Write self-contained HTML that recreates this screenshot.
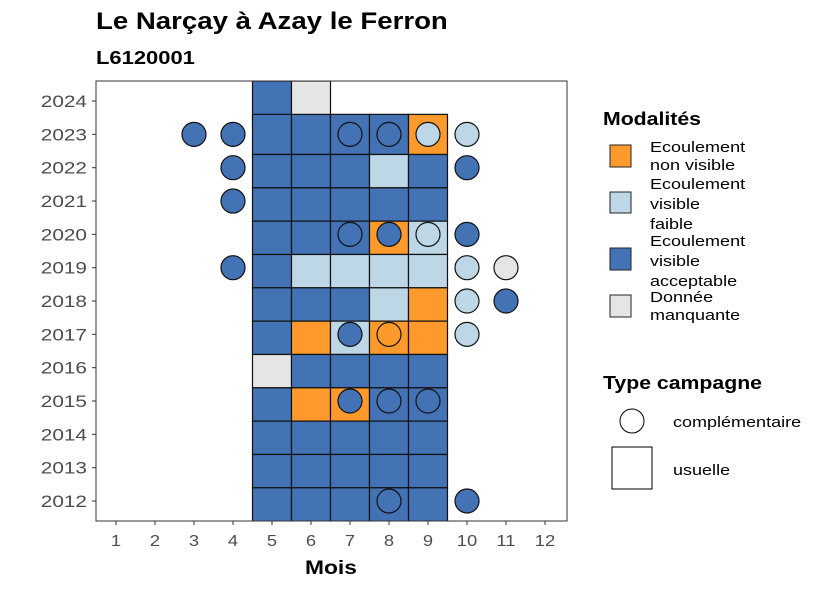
<!DOCTYPE html>
<html><head><meta charset="utf-8"><style>
body{margin:0;background:#fff;font-family:"Liberation Sans",sans-serif}
svg text{font-family:"Liberation Sans",sans-serif}
</style></head><body>
<svg id="c" width="826" height="590" xmlns="http://www.w3.org/2000/svg">
<text class="w" data-f="1.15" x="96" y="29" font-size="24" font-weight="bold">Le Narçay à Azay le Ferron</text>
<text class="w" data-f="1.22" x="96" y="64" font-size="18" font-weight="bold">L6120001</text>
<defs><clipPath id="pc"><rect x="96" y="81" width="471" height="440"/></clipPath></defs>
<rect x="96" y="81" width="471" height="440" fill="#fff"/>
<g id="tiles" clip-path="url(#pc)"></g>
<g id="pts"></g>
<rect x="96" y="81" width="471" height="440" fill="none" stroke="#333" stroke-width="1"/>
<g id="axes"></g>
<text class="w" data-f="1.2" x="305" y="574" font-size="19" font-weight="bold">Mois</text>
<g>
<text class="w" data-f="1.18" x="603" y="125" font-size="18" font-weight="bold">Modalités</text>
<rect x="610" y="145" width="21" height="22" fill="#FD9A2B" stroke="#222"/>
<text x="650" y="152" font-size="15"><tspan class="w" data-f="1.2" x="650">Ecoulement</tspan><tspan class="w" data-f="1.2" x="650" dy="18">non visible</tspan></text>
<rect x="610" y="192" width="21" height="21" fill="#BDD7E7" stroke="#222"/>
<text x="650" y="189" font-size="15"><tspan class="w" data-f="1.2" x="650">Ecoulement</tspan><tspan class="w" data-f="1.2" x="650" dy="20">visible</tspan><tspan class="w" data-f="1.2" x="650" dy="20">faible</tspan></text>
<rect x="610" y="248" width="21" height="22" fill="#4373B4" stroke="#222"/>
<text x="650" y="246" font-size="15"><tspan class="w" data-f="1.2" x="650">Ecoulement</tspan><tspan class="w" data-f="1.2" x="650" dy="20">visible</tspan><tspan class="w" data-f="1.2" x="650" dy="20">acceptable</tspan></text>
<rect x="610" y="295" width="21" height="22" fill="#E5E5E5" stroke="#222"/>
<text x="650" y="302" font-size="15"><tspan class="w" data-f="1.2" x="650">Donnée</tspan><tspan class="w" data-f="1.2" x="650" dy="18">manquante</tspan></text>
</g>
<g>
<text class="w" data-f="1.18" x="603" y="389" font-size="18" font-weight="bold">Type campagne</text>
<circle cx="632" cy="421" r="12" fill="#fff" stroke="#000"/>
<text class="w" data-f="1.2" x="673" y="427" font-size="15">complémentaire</text>
<rect x="612" y="447" width="40" height="42" fill="#fff" stroke="#000"/>
<text class="w" data-f="1.2" x="673" y="475" font-size="15">usuelle</text>
</g>
</svg>
<script>
const months=[1,2,3,4,5,6,7,8,9,10,11,12];
const years=[2012,2013,2014,2015,2016,2017,2018,2019,2020,2021,2022,2023,2024];
// tile data: year, month, modality
const tileYears=[2024,2024,2023,2023,2023,2023,2023,2022,2022,2022,2022,2022,2021,2021,2021,2021,2021,2020,2020,2020,2020,2020,2019,2019,2019,2019,2019,2018,2018,2018,2018,2018,2017,2017,2017,2017,2017,2016,2016,2016,2016,2016,2015,2015,2015,2015,2015,2014,2014,2014,2014,2014,2013,2013,2013,2013,2013,2012,2012,2012,2012,2012];
const tileMonths=[5,6,5,6,7,8,9,5,6,7,8,9,5,6,7,8,9,5,6,7,8,9,5,6,7,8,9,5,6,7,8,9,5,6,7,8,9,5,6,7,8,9,5,6,7,8,9,5,6,7,8,9,5,6,7,8,9,5,6,7,8,9];
const tileMods=["B","G","B","B","B","B","O","B","B","B","L","B","B","B","B","B","B","B","B","B","O","L","B","L","L","L","L","B","B","B","L","O","B","O","L","O","O","G","B","B","B","B","B","O","O","B","B","B","B","B","B","B","B","B","B","B","B","B","B","B","B","B"];
// complementary campaign points
const ptYears=[2023,2023,2023,2023,2023,2023,2022,2022,2021,2020,2020,2020,2020,2019,2019,2019,2018,2018,2017,2017,2017,2015,2015,2015,2012,2012];
const ptMonths=[3,4,7,8,9,10,4,10,4,7,8,9,10,4,10,11,10,11,7,8,10,7,8,9,8,10];
const ptMods=["B","B","B","B","L","L","B","B","B","B","B","L","B","B","L","G","L","B","B","O","L","B","B","B","B","B"];
const colors={O:"#FD9A2B",L:"#BDD7E7",B:"#4373B4",G:"#E5E5E5"};
const NS="http://www.w3.org/2000/svg";
const xS=m=>116+(m-1)*39;
const yS=y=>501-(y-2012)*33.33;
function mk(t,a,p){const e=document.createElementNS(NS,t);for(const k in a)e.setAttribute(k,a[k]);p.appendChild(e);return e;}
const tg=document.getElementById('tiles'),pg=document.getElementById('pts'),ag=document.getElementById('axes');
tileYears.forEach((y,i)=>{
 const c=yS(y);const top=(y>=2023)?c-20:c-13.2;const bot=c+20.1;
 const r=mk('rect',{x:xS(tileMonths[i])-19.5,y:top,width:39,height:bot-top,fill:colors[tileMods[i]],stroke:"#111","stroke-width":1.2},tg);
 
 
});
ptYears.forEach((y,i)=>{
 const c=mk('circle',{cx:xS(ptMonths[i]),cy:yS(y),r:12,fill:colors[ptMods[i]],stroke:"#111","stroke-width":1.2},pg);
 
 
});
months.forEach(m=>{
 mk('line',{x1:xS(m),x2:xS(m),y1:521,y2:525,stroke:"#333"},ag);
 const t=mk('text',{x:xS(m),y:546,"font-size":16,fill:"#4d4d4d","text-anchor":"middle",class:"w","data-f":"1.15"},ag);t.textContent=m;
 
 
});
years.forEach(y=>{
 mk('line',{x1:92,x2:96,y1:yS(y),y2:yS(y),stroke:"#333"},ag);
 const t=mk('text',{x:87,y:yS(y)+6,"font-size":17,fill:"#4d4d4d","text-anchor":"end",class:"w","data-f":"1.22"},ag);t.textContent=y;
 
 
});
document.querySelectorAll('.w').forEach(el=>{
 const f=parseFloat(el.getAttribute('data-f')||'1.2');
 const L=el.getComputedTextLength();
 if(L>0){el.setAttribute('textLength',(L*f).toFixed(1));el.setAttribute('lengthAdjust','spacingAndGlyphs');}
});
</script>
</body></html>
